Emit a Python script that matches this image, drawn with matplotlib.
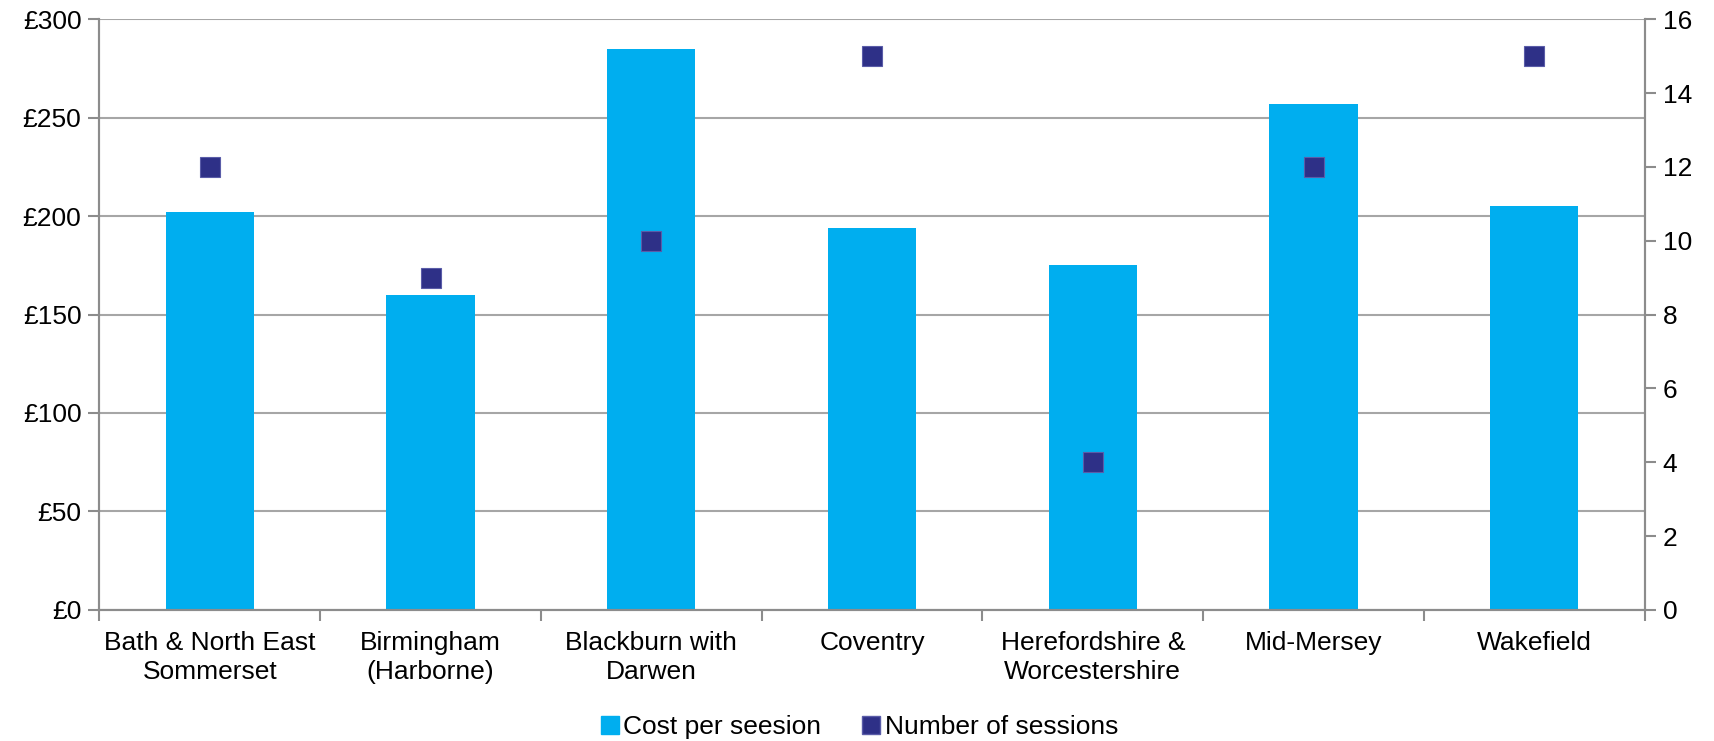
import matplotlib.pyplot as plt
from matplotlib.lines import Line2D
from matplotlib.ticker import FuncFormatter, MultipleLocator

plt.rcParams['font.family'] = ['Liberation Sans', 'DejaVu Sans']

areas = ["Bath & North East\nSommerset", "Birmingham\n(Harborne)", "Blackburn with\nDarwen",
         "Coventry", "Herefordshire &\nWorcestershire", "Mid-Mersey", "Wakefield"]
cost_per_session = [202, 160, 285, 194, 175, 257, 205]
number_of_sessions = [12, 9, 10, 15, 4, 12, 15]
series_names = ["Cost per seesion", "Number of sessions"]

BAR_COLOR = "#00AEEF"
MARKER_COLOR = "#2E3087"
MARKER_EDGE = "#5A5CA8"
GRID_COLOR = "#A6A6A6"
AXIS_COLOR = "#8C8C8C"
FS = 19

fig = plt.figure(figsize=(17.15, 7.41), dpi=100)
ax = fig.add_axes([0.058, 0.177, 0.901, 0.797])
ax2 = ax.twinx()

x = list(range(len(areas)))
ax.bar(x, cost_per_session, width=0.4, color=BAR_COLOR, zorder=2)
ax2.plot(x, number_of_sessions, linestyle="none", marker="s", markersize=14,
         markerfacecolor=MARKER_COLOR, markeredgecolor=MARKER_EDGE, markeredgewidth=0.8)

# left axis (cost)
ax.set_ylim(0, 300)
ax.yaxis.set_major_locator(MultipleLocator(50))
ax.yaxis.set_major_formatter(FuncFormatter(lambda v, _: f"£{v:.0f}"))
ax.grid(axis="y", color=GRID_COLOR, linewidth=1.5, zorder=0)
ax.set_axisbelow(True)

# right axis (sessions)
ax2.set_ylim(0, 16)
ax2.yaxis.set_major_locator(MultipleLocator(2))

# category axis: labels centred, ticks on the boundaries
ax.set_xlim(-0.5, len(areas) - 0.5)
ax.set_xticks(x)
ax.set_xticklabels(areas, linespacing=1.3)
ax.set_xticks([i - 0.5 for i in range(len(areas) + 1)], minor=True)
ax.tick_params(axis="x", which="major", length=0, pad=15, labelsize=FS)
ax.tick_params(axis="x", which="minor", length=8, width=1.5, color=AXIS_COLOR)
ax.tick_params(axis="y", length=8, width=1.5, color=AXIS_COLOR, labelsize=FS, pad=5)
ax2.tick_params(axis="y", length=8, width=1.5, color=AXIS_COLOR, labelsize=FS, pad=5)

for a in (ax, ax2):
    a.spines["top"].set_visible(False)
    for side in ("left", "right", "bottom"):
        a.spines[side].set_color(AXIS_COLOR)
        a.spines[side].set_linewidth(1.5)

handles = [Line2D([], [], linestyle="none", marker="s", markersize=13,
                  markerfacecolor=BAR_COLOR, markeredgecolor=BAR_COLOR),
           Line2D([], [], linestyle="none", marker="s", markersize=13,
                  markerfacecolor=MARKER_COLOR, markeredgecolor=MARKER_EDGE)]
fig.legend(handles, series_names, loc="lower center", bbox_to_anchor=(0.5, -0.03), ncol=2,
           frameon=False, fontsize=FS, handletextpad=0.0, columnspacing=1.4, handlelength=1.0)

fig.savefig("out.png", dpi=100)
